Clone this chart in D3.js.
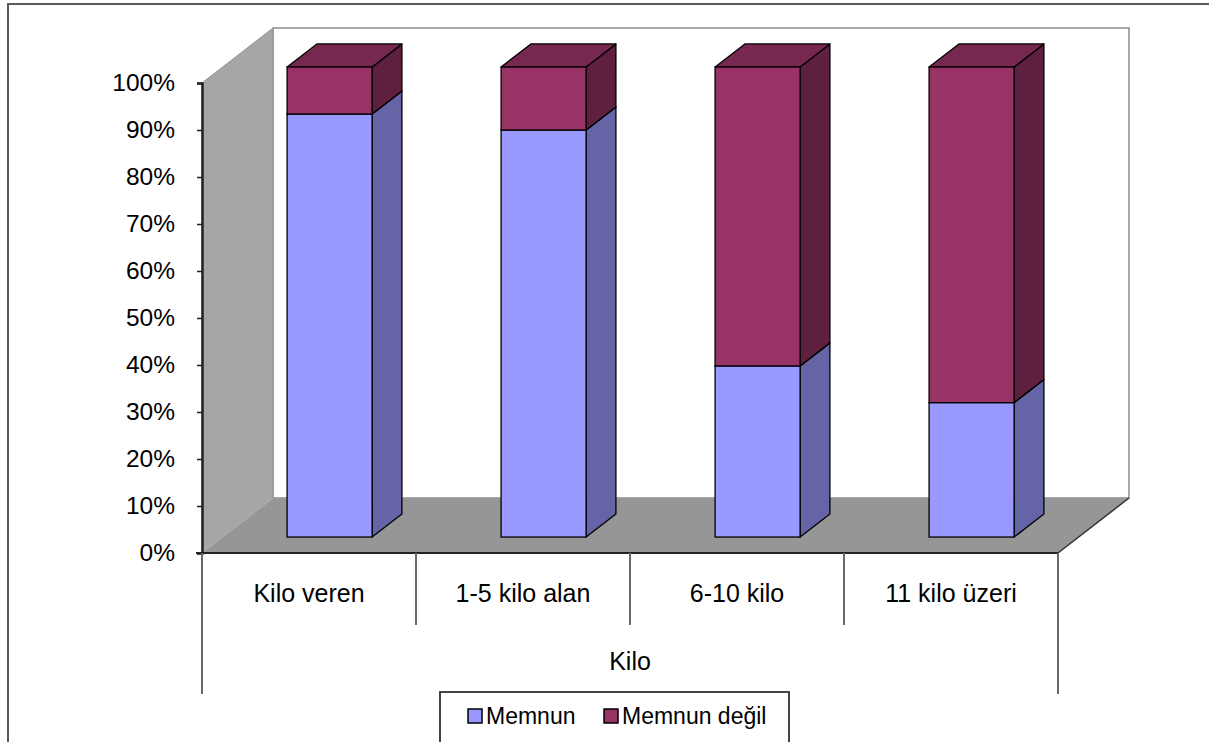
<!DOCTYPE html>
<html>
<head>
<meta charset="utf-8">
<script src="https://cdn.jsdelivr.net/npm/d3@7"></script>
<style>
  html, body { margin: 0; padding: 0; background: #ffffff; }
  svg { display: block; font-family: "Liberation Sans", Arial, sans-serif; }
</style>
</head>
<body>
<svg id="chart" width="1209" height="742"></svg>
<script>
// Satisfaction share by weight change group (stacked to 100%)
const categories = ["Kilo veren", "1-5 kilo alan", "6-10 kilo", "11 kilo üzeri"];
const seriesNames = ["Memnun", "Memnun değil"];
const memnun = [90.0, 86.6, 36.4, 28.6];
const memnunDegil = [10.0, 13.4, 63.6, 71.4];
const yTicks = [0, 10, 20, 30, 40, 50, 60, 70, 80, 90, 100];
const axisTitle = "Kilo";

const colors = {
  "Memnun": { front: "#9999ff", side: "#6464a6", top: "#7878c8" },
  "Memnun değil": { front: "#993366", side: "#5f1f3f", top: "#772850" }
};

const svg = d3.select("#chart");

// Front plane of the plot and the 3D depth offset
const plotLeft = 202, plotRight = 1058, plotTop = 83, plotBottom = 553;
const depthX = 71, depthY = -55;
const barDepth0 = 0.29, barDepth1 = 0.71;

const x = d3.scaleBand().domain(categories).range([plotLeft, plotRight]).paddingInner(0).paddingOuter(0);
const y = d3.scaleLinear().domain([0, 100]).range([plotBottom, plotTop]);
const barWidth = 85;

const line = d3.line();

// Outer frame
svg.append("path").attr("d", line([[8, 742], [8, 4], [1209, 4]]))
  .attr("fill", "none").attr("stroke", "#5a5a5a").attr("stroke-width", 2);

// Back wall
svg.append("path")
  .attr("d", line([[plotLeft + depthX, plotTop + depthY], [plotRight + depthX, plotTop + depthY],
                   [plotRight + depthX, plotBottom + depthY], [plotLeft + depthX, plotBottom + depthY]]) + "Z")
  .attr("fill", "#ffffff").attr("stroke", "#8c8c8c").attr("stroke-width", 1.5);

// Left wall
svg.append("path")
  .attr("d", line([[plotLeft, plotTop], [plotLeft + depthX, plotTop + depthY],
                   [plotLeft + depthX, plotBottom + depthY], [plotLeft, plotBottom]]) + "Z")
  .attr("fill", "#a6a6a6").attr("stroke", "#909090").attr("stroke-width", 1);

// Floor
svg.append("path")
  .attr("d", line([[plotLeft, plotBottom], [plotLeft + depthX, plotBottom + depthY],
                   [plotRight + depthX, plotBottom + depthY], [plotRight, plotBottom]]) + "Z")
  .attr("fill", "#969696").attr("stroke", "none");
svg.append("path")
  .attr("d", line([[plotRight, plotBottom], [plotRight + depthX, plotBottom + depthY]]))
  .attr("stroke", "#333").attr("stroke-width", 1.5).attr("fill", "none");
svg.append("path")
  .attr("d", line([[plotLeft, plotBottom], [plotLeft + depthX, plotBottom + depthY]]))
  .attr("stroke", "#b4b4b4").attr("stroke-width", 1).attr("fill", "none");

// Stacked bars
const stackData = categories.map((c, i) => ({ cat: c, "Memnun": memnun[i], "Memnun değil": memnunDegil[i] }));
const stacked = d3.stack().keys(seriesNames)(stackData);

const fdx = depthX * barDepth0, fdy = depthY * barDepth0;
const bdx = depthX * (barDepth1 - barDepth0), bdy = depthY * (barDepth1 - barDepth0);

categories.forEach((c, i) => {
  const g = svg.append("g");
  const xl = x(c) + x.bandwidth() / 2 - barWidth / 2 + fdx;
  const xr = xl + barWidth;
  stacked.forEach(s => {
    const col = colors[s.key];
    const y0 = y(s[i][0]) + fdy, y1 = y(s[i][1]) + fdy;
    // right side face
    g.append("path")
      .attr("d", line([[xr, y0], [xr + bdx, y0 + bdy], [xr + bdx, y1 + bdy], [xr, y1]]) + "Z")
      .attr("fill", col.side).attr("stroke", "#000").attr("stroke-width", 1.3).attr("stroke-linejoin", "round");
    // top face
    g.append("path")
      .attr("d", line([[xl, y1], [xl + bdx, y1 + bdy], [xr + bdx, y1 + bdy], [xr, y1]]) + "Z")
      .attr("fill", col.top).attr("stroke", "#000").attr("stroke-width", 1.3).attr("stroke-linejoin", "round");
    // front face
    g.append("rect")
      .attr("x", xl).attr("y", y1).attr("width", barWidth).attr("height", y0 - y1)
      .attr("fill", col.front).attr("stroke", "#000").attr("stroke-width", 1.3);
  });
});

// Value axis
const yAxis = svg.append("g").attr("transform", `translate(${plotLeft},0)`)
  .call(d3.axisLeft(y).tickValues(yTicks).tickFormat(d => d + "%").tickSize(5).tickPadding(22));
yAxis.select(".domain").attr("stroke", "#222").attr("stroke-width", 2.5);
yAxis.selectAll(".tick line").attr("stroke", "#222").attr("stroke-width", 1.5);
yAxis.selectAll(".tick text").attr("font-size", 24.5).attr("fill", "#000")
  .attr("font-family", '"Liberation Sans", Arial, sans-serif');

// Floor front edge
svg.append("path").attr("d", line([[plotLeft - 6, plotBottom], [plotRight, plotBottom]]))
  .attr("stroke", "#222").attr("stroke-width", 2).attr("fill", "none");

// Category table lines and labels
const catG = svg.append("g");
const dividers = categories.map(c => x(c)).concat([plotRight]);
dividers.forEach((d, i) => {
  const isEdge = i === 0 || i === dividers.length - 1;
  catG.append("line").attr("x1", d).attr("x2", d)
    .attr("y1", plotBottom).attr("y2", isEdge ? 694 : 625)
    .attr("stroke", "#6a6a6a").attr("stroke-width", 2);
});
categories.forEach(c => {
  catG.append("text").attr("x", x(c) + x.bandwidth() / 2).attr("y", 602)
    .attr("text-anchor", "middle").attr("font-size", 25).attr("fill", "#000").text(c);
});
catG.append("text").attr("x", (plotLeft + plotRight) / 2).attr("y", 670)
  .attr("text-anchor", "middle").attr("font-size", 25).attr("fill", "#000").text(axisTitle);

// Legend
const legend = svg.append("g");
legend.append("rect").attr("x", 440).attr("y", 692).attr("width", 349).attr("height", 52)
  .attr("fill", "#fff").attr("stroke", "#444").attr("stroke-width", 2);
const legendX = [468, 604];
seriesNames.forEach((name, i) => {
  legend.append("rect").attr("x", legendX[i]).attr("y", 709).attr("width", 14).attr("height", 14)
    .attr("fill", colors[name].front).attr("stroke", "#000").attr("stroke-width", 1.5);
  legend.append("text").attr("x", legendX[i] + 18).attr("y", 724)
    .attr("font-size", 23).attr("fill", "#000").text(name);
});
</script>
</body>
</html>
